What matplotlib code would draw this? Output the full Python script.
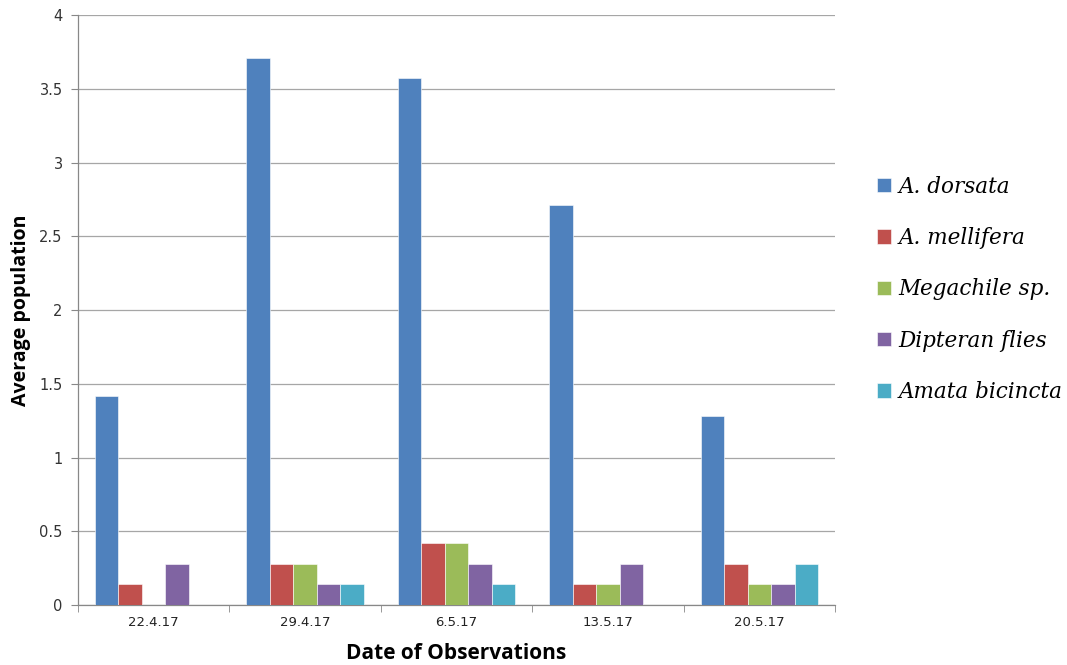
import numpy as np
import matplotlib.pyplot as plt
from matplotlib.ticker import FixedLocator

dates = ['22.4.17', '29.4.17', '6.5.17', '13.5.17', '20.5.17']
species = ['A. dorsata', 'A. mellifera', 'Megachile sp.', 'Dipteran flies', 'Amata bicincta']
dorsata = [1.42, 3.71, 3.57, 2.71, 1.28]
mellifera = [0.14, 0.28, 0.42, 0.14, 0.28]
megachile = [0.0, 0.28, 0.42, 0.14, 0.14]
dipteran = [0.28, 0.14, 0.28, 0.28, 0.14]
amata = [0.0, 0.14, 0.14, 0.0, 0.28]
colors = ['#4f81bd', '#c0504d', '#9bbb59', '#8064a2', '#4bacc6']

series = [dorsata, mellifera, megachile, dipteran, amata]

fig = plt.figure(figsize=(10.67, 6.65), dpi=100)
ax = fig.add_axes([0.0731, 0.0902, 0.7095, 0.8872])

x = np.arange(len(dates))
width = 0.155
for i, (vals, name, c) in enumerate(zip(series, species, colors)):
    ax.bar(x + (i - 2) * width, vals, width, color=c, label=name,
           edgecolor='white', linewidth=0.4, zorder=3)

ax.set_xlim(-0.5, len(dates) - 0.5)
ax.set_ylim(0, 4)
ax.set_yticks(np.arange(0, 4.01, 0.5))
ax.set_yticklabels(['0', '0.5', '1', '1.5', '2', '2.5', '3', '3.5', '4'])
ax.set_xticks(x)
ax.set_xticklabels(dates)
ax.xaxis.set_minor_locator(FixedLocator(np.arange(-0.5, len(dates), 1.0)))
ax.tick_params(axis='x', which='major', length=0, pad=8, labelsize=9.5,
               colors='#222222')
ax.tick_params(axis='x', which='minor', length=5, color='#888888', direction='out')
ax.tick_params(axis='y', length=5, labelsize=10.5, pad=6,
               colors='#888888', labelcolor='#333333')

ax.grid(axis='y', color='#a6a6a6', linewidth=0.9, zorder=0)
for s in ['top', 'right']:
    ax.spines[s].set_visible(False)
for s in ['left', 'bottom']:
    ax.spines[s].set_color('#888888')
    ax.spines[s].set_linewidth(0.9)

ax.set_ylabel('Average population', fontsize=14, fontweight='bold',
              family='Open Sans', labelpad=6)
ax.set_xlabel('Date of Observations', fontsize=15, fontweight='bold',
              family='Open Sans', labelpad=10)

leg = ax.legend(loc='center left', bbox_to_anchor=(1.03, 0.535), frameon=False,
                prop={'family': 'DejaVu Serif', 'style': 'italic', 'size': 15.5},
                handlelength=0.65, handleheight=0.65, handletextpad=0.35,
                labelspacing=1.36)

fig.savefig('out.png', dpi=100)
